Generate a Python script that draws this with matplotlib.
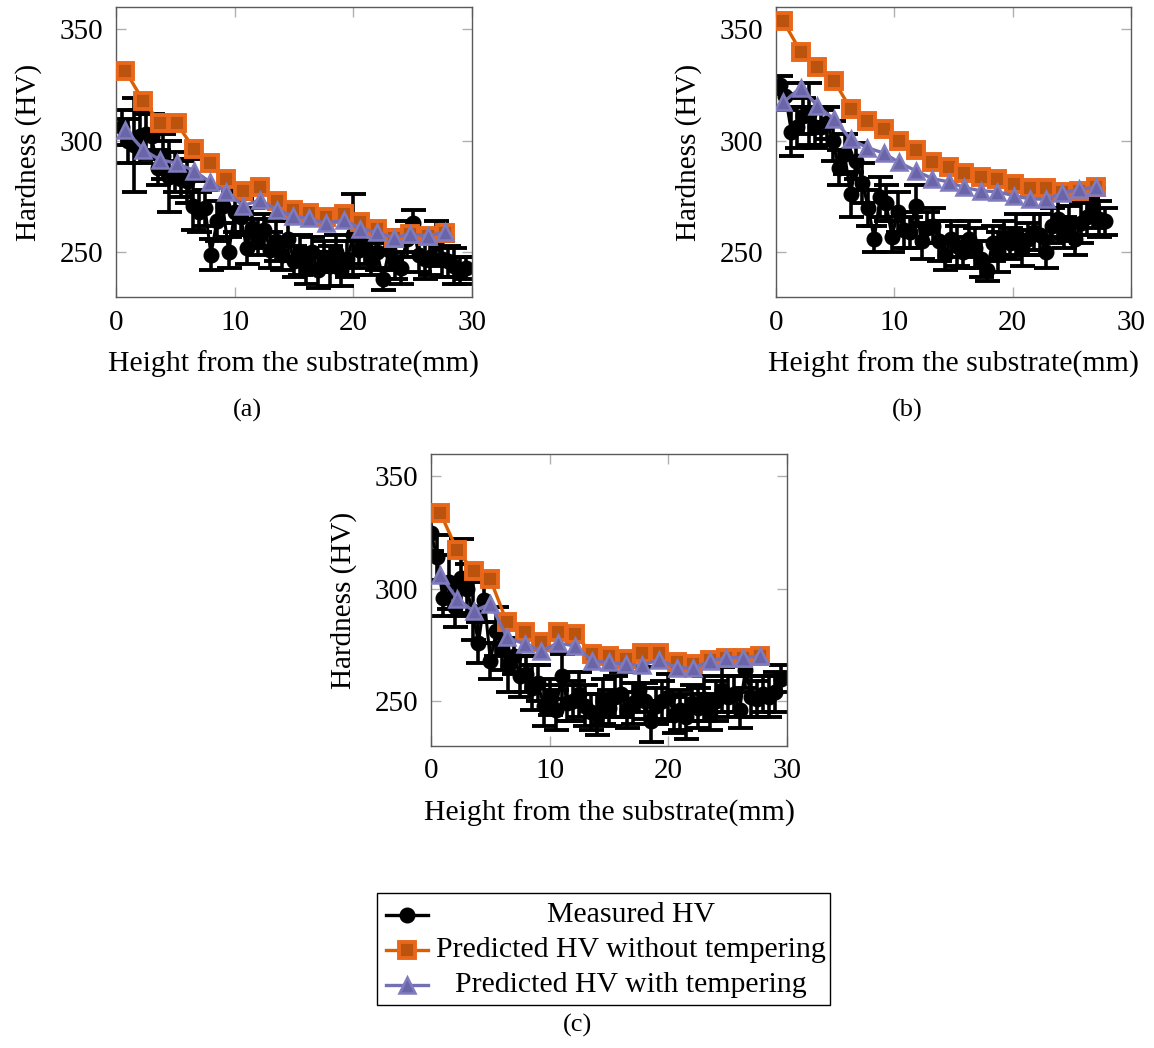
import matplotlib
matplotlib.use("Agg")
import matplotlib.pyplot as plt
from matplotlib.lines import Line2D
from matplotlib.patches import Rectangle

plt.rcParams['font.family'] = ['Liberation Serif', 'DejaVu Serif']
plt.rcParams['mathtext.fontset'] = 'stix'

# ---------------- data ----------------
# Panel (a)
a_meas_x = [0.5, 1.0, 1.5, 2.0, 2.5, 3.0, 3.5, 4.0, 4.5, 5.0, 5.5, 6.0, 6.5, 7.0, 7.5,
            8.0, 8.5, 9.0, 9.5, 10.0, 10.5, 11.0, 11.5, 12.0, 12.5, 13.0, 13.5, 14.0,
            14.5, 15.0, 15.5, 16.0, 16.5, 17.0, 17.5, 18.0, 18.5, 19.0, 19.5, 20.0,
            20.5, 21.0, 21.5, 22.0, 22.5, 23.0, 23.5, 24.0, 24.5, 25.0, 25.5, 26.0,
            26.5, 27.0, 27.5, 28.0, 28.5, 29.0, 29.5]
a_meas_y = [306, 300, 298, 302, 303, 302, 288, 293, 284, 286, 283, 282, 271, 268, 270,
            249, 264, 271, 250, 268, 266, 252, 261, 257, 260, 251, 255, 249,
            256, 246, 249, 244, 250, 242, 248, 244, 250, 242, 247, 258,
            251, 254, 247, 250, 238, 251, 246, 243, 256, 263, 249, 247,
            248, 254, 247, 246, 244, 242, 243]
a_meas_err = [8, 10, 21, 12, 9, 10, 8, 10, 16, 9, 8, 10, 11, 9, 8,
              7, 9, 8, 7, 9, 8, 7, 9, 8, 7, 8, 9, 7,
              8, 7, 9, 8, 7, 8, 7, 9, 8, 7, 8, 18,
              8, 9, 7, 8, 5, 9, 8, 7, 8, 6, 8, 9,
              8, 10, 8, 7, 8, 6, 5]

a_pred_x = [0.8, 2.3, 3.7, 5.1, 6.6, 7.9, 9.3, 10.7, 12.1, 13.6, 14.9, 16.3, 17.7,
            19.2, 20.6, 22.0, 23.4, 24.8, 26.3, 27.7]
a_notemp_y = [331.3, 317.9, 308.2, 307.9, 296.3, 290.0, 283.1, 277.3, 279.1, 273.1,
              269.1, 267.6, 265.7, 267.2, 263.4, 260.7, 256.6, 258.2, 257.2, 258.5]
a_temp_y = [304.9, 296.0, 291.5, 290.0, 286.6, 281.6, 277.2, 270.9, 273.4, 269.1,
            266.4, 265.2, 263.0, 264.6, 260.7, 259.0, 256.6, 258.2, 257.5, 259.0]

# Panel (b)
b_meas_x = [0.3, 0.8, 1.3, 1.8, 2.3, 2.8, 3.3, 3.8, 4.3, 4.8, 5.3, 5.8, 6.3, 6.8, 7.3,
            7.8, 8.3, 8.8, 9.3, 9.8, 10.3, 10.8, 11.3, 11.8, 12.3, 12.8, 13.3, 13.8,
            14.3, 14.8, 15.3, 15.8, 16.3, 16.8, 17.3, 17.8, 18.3, 18.8, 19.3, 19.8,
            20.3, 20.8, 21.3, 21.8, 22.3, 22.8, 23.3, 23.8, 24.3, 24.8, 25.3, 25.8,
            26.3, 26.8, 27.3, 27.8]
b_meas_y = [325, 320, 304, 306, 311, 312, 306, 306, 308, 300, 288, 294, 276, 291, 281,
            270, 256, 275, 272, 257, 268, 260, 259, 271, 255, 261, 262, 255,
            249, 256, 253, 250, 256, 252, 247, 242, 254, 250, 256, 254,
            258, 252, 256, 259, 258, 250, 262, 265, 259, 263, 256, 263,
            266, 270, 265, 264]
b_meas_err = [4, 6, 11, 9, 8, 14, 9, 8, 7, 9, 8, 9, 10, 8, 9,
              8, 6, 9, 8, 7, 9, 8, 7, 9, 8, 7, 8, 9,
              7, 8, 9, 7, 8, 9, 8, 5, 8, 9, 8, 7,
              9, 8, 7, 8, 9, 7, 8, 9, 7, 8, 7, 9,
              8, 9, 8, 6]

b_pred_x = [0.6, 2.1, 3.5, 4.9, 6.3, 7.7, 9.1, 10.4, 11.8, 13.2, 14.6, 15.9, 17.3,
            18.7, 20.1, 21.5, 22.8, 24.2, 25.6, 27.0]
b_notemp_y = [353.7, 339.9, 333.1, 326.9, 314.5, 309.0, 305.2, 300.0, 295.8, 290.3,
              288.4, 285.8, 283.6, 282.8, 280.6, 278.7, 278.7, 276.9, 277.6, 279.1]
b_temp_y = [317.2, 323.9, 315.7, 309.7, 300.7, 297.0, 294.5, 290.3, 286.6, 283.1,
            281.6, 279.1, 277.6, 277.2, 275.4, 273.9, 273.9, 276.6, 278.4, 279.1]

# Panel (c)
c_meas_x = [0.0, 0.5, 1.0, 1.5, 2.0, 2.5, 3.0, 3.5, 4.0, 4.5, 5.0, 5.5, 6.0, 6.5, 7.0,
            7.5, 8.0, 8.5, 9.0, 9.5, 10.0, 10.5, 11.0, 11.5, 12.0, 12.5, 13.0, 13.5,
            14.0, 14.5, 15.0, 15.5, 16.0, 16.5, 17.0, 17.5, 18.0, 18.5, 19.0, 19.5,
            20.0, 20.5, 21.0, 21.5, 22.0, 22.5, 23.0, 23.5, 24.0, 24.5, 25.0, 25.5,
            26.0, 26.5, 27.0, 27.5, 28.0, 28.5, 29.0, 29.5]
c_meas_y = [325, 314, 296, 303, 292, 305, 300, 290, 276, 295, 268, 281, 273, 266, 270,
            261, 262, 256, 258, 248, 252, 246, 261, 249, 250, 253, 248, 245,
            244, 250, 247, 252, 253, 246, 249, 255, 250, 241, 248, 250,
            252, 244, 246, 243, 249, 247, 251, 245, 250, 255, 252, 253,
            246, 264, 252, 251, 253, 252, 254, 260]
c_meas_err = [8, 10, 8, 12, 9, 17, 11, 13, 9, 10, 8, 11, 9, 12, 8,
              9, 8, 10, 8, 9, 8, 9, 10, 8, 9, 10, 9, 8,
              9, 10, 8, 9, 10, 8, 9, 10, 8, 9, 8, 9,
              10, 8, 9, 10, 8, 9, 10, 8, 9, 10, 9, 8,
              8, 8, 9, 8, 8, 9, 9, 6]

c_pred_x = [0.8, 2.2, 3.6, 5.0, 6.4, 7.9, 9.3, 10.7, 12.1, 13.6, 15.0, 16.4, 17.8,
            19.2, 20.7, 22.1, 23.5, 24.9, 26.3, 27.7]
c_notemp_y = [333.6, 317.2, 307.8, 304.2, 285.1, 280.9, 276.4, 280.9, 279.9, 270.9,
              269.9, 268.7, 271.3, 271.3, 267.5, 266.4, 268.4, 269.4, 269.4, 270.1]
c_temp_y = [306.0, 295.5, 290.0, 293.3, 278.4, 275.4, 272.4, 275.8, 274.6, 267.9,
            267.2, 266.4, 266.0, 268.4, 264.9, 264.6, 267.9, 269.4, 269.4, 270.1]

x_ticks = [0, 10, 20, 30]
y_ticks = [250, 300, 350]
labels = ["Measured HV", "Predicted HV without tempering", "Predicted HV with tempering"]
captions = ["(a)", "(b)", "(c)"]

# ---------------- styles ----------------
ORANGE_LINE = '#d95f02'
ORANGE_FACE = '#b9530e'
ORANGE_EDGE = '#e8671a'
PURPLE_LINE = '#7570b3'
PURPLE_FACE = '#6a65a8'
PURPLE_EDGE = '#817cbd'

W, H = 1154, 1048
fig = plt.figure(figsize=(W / 100, H / 100), dpi=100)


def px_axes(left, top, right, bottom):
    return fig.add_axes([left / W, 1 - bottom / H, (right - left) / W, (bottom - top) / H])


def draw_panel(ax, mx, my, merr, px, pn, pt):
    ax.errorbar(mx, my, yerr=merr, fmt='-o', color='black', lw=2.2, ms=10.5,
                elinewidth=2.6, capsize=9, capthick=2.8, zorder=2)
    ax.plot(px, pn, '-s', color=ORANGE_LINE, lw=2.4, ms=11, mfc=ORANGE_FACE,
            mec=ORANGE_EDGE, mew=2.8, zorder=3)
    ax.plot(px, pt, '-^', color=PURPLE_LINE, lw=2.4, ms=12, mfc=PURPLE_FACE,
            mec=PURPLE_EDGE, mew=1.8, zorder=4)
    ax.set_xlim(0, 30)
    ax.set_ylim(230, 360)
    ax.set_xticks(x_ticks)
    ax.set_yticks(y_ticks)
    ax.tick_params(direction='in', top=True, right=True, length=7, width=1,
                   color='#b0b0b0', labelsize=21, pad=9, labelcolor='black')
    for s in ax.spines.values():
        s.set_color('#5a5a5a')
        s.set_linewidth(1.0)
    ax.set_xlabel("Height from the substrate(mm)", fontsize=21.5, labelpad=11)
    ax.set_ylabel("Hardness (HV)", fontsize=21, labelpad=13)


ax_a = px_axes(116, 7, 472, 297)
draw_panel(ax_a, a_meas_x, a_meas_y, a_meas_err, a_pred_x, a_notemp_y, a_temp_y)
ax_b = px_axes(776, 7, 1131, 297)
draw_panel(ax_b, b_meas_x, b_meas_y, b_meas_err, b_pred_x, b_notemp_y, b_temp_y)
ax_c = px_axes(431, 454, 787, 746)
draw_panel(ax_c, c_meas_x, c_meas_y, c_meas_err, c_pred_x, c_notemp_y, c_temp_y)

# captions
fig.text(247 / W, 1 - 410 / H, captions[0], ha='center', va='center', fontsize=19)
fig.text(907 / W, 1 - 410 / H, captions[1], ha='center', va='center', fontsize=19)
fig.text(577 / W, 1 - 1025 / H, captions[2], ha='center', va='center', fontsize=19)

# legend (centered entries, drawn manually)
lx0, ly0, lx1, ly1 = 377, 893, 830, 1005
fig.patches.append(Rectangle((lx0 / W, 1 - ly1 / H), (lx1 - lx0) / W, (ly1 - ly0) / H,
                             transform=fig.transFigure, fill=False, ec='black', lw=1.0))
rows = [915, 950, 985]
handles = [
    dict(color='black', marker='o', ms=10.5, mfc='black', mec='black', mew=1),
    dict(color=ORANGE_LINE, marker='s', ms=11, mfc=ORANGE_FACE, mec=ORANGE_EDGE, mew=2.8),
    dict(color=PURPLE_LINE, marker='^', ms=12, mfc=PURPLE_FACE, mec=PURPLE_EDGE, mew=1.8),
]
for r, h, lab in zip(rows, handles, labels):
    yy = 1 - r / H
    fig.add_artist(Line2D([386 / W, 428 / W], [yy, yy], transform=fig.transFigure,
                          lw=2.4, color=h['color']))
    fig.add_artist(Line2D([407 / W], [yy], transform=fig.transFigure, lw=0,
                          marker=h['marker'], ms=h['ms'], mfc=h['mfc'], mec=h['mec'],
                          mew=h['mew']))
    fig.text(631 / W, yy, lab, ha='center', va='center', fontsize=21.5)

fig.savefig("out.png", dpi=100)
